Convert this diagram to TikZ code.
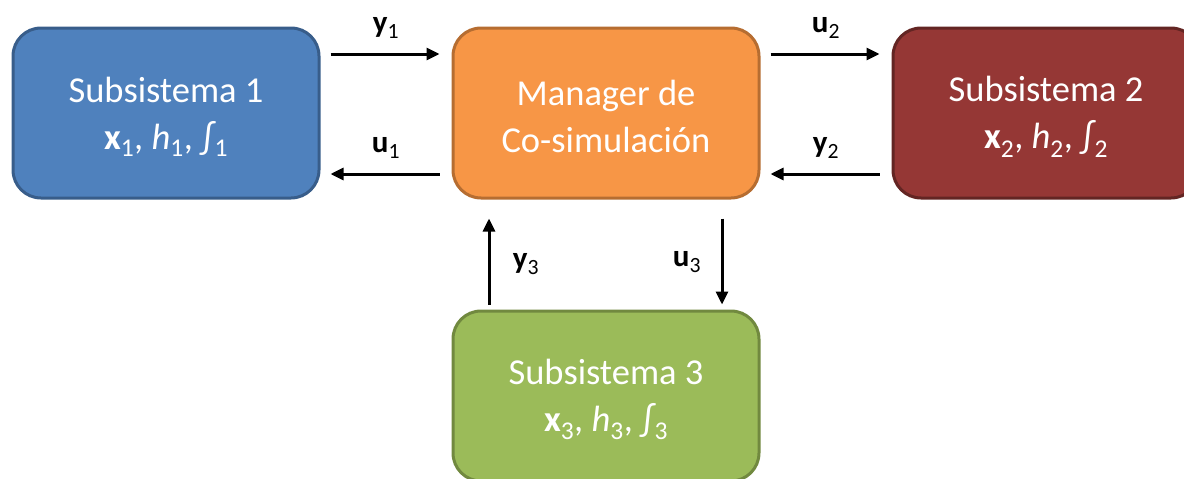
\documentclass[tikz,border=0pt]{standalone}
\usepackage{fontspec}
\setmainfont{Carlito}
\usetikzlibrary{arrows.meta}

\definecolor{blueF}{HTML}{4F81BD}
\definecolor{blueD}{HTML}{385D8A}
\definecolor{orgF}{HTML}{F79646}
\definecolor{orgD}{HTML}{B66D31}
\definecolor{redF}{HTML}{953735}
\definecolor{redD}{HTML}{632523}
\definecolor{grnF}{HTML}{9BBB59}
\definecolor{grnD}{HTML}{71893F}

% a little extra headroom on the first line sets the text block slightly lower
\newcommand{\topstrut}{\rule{0pt}{33pt}}

\tikzset{
  block/.style={draw, line width=3pt, rounded corners=28pt,
    minimum width=306pt, minimum height=170pt, inner sep=0pt,
    text=white, align=center, font=\fontsize{36.5}{47}\selectfont},
  link/.style={line width=3pt, -{Triangle[length=13pt,width=12pt]}},
  sig/.style={font=\fontsize{31}{34}\selectfont, inner sep=0pt},
}

\begin{document}
\begin{tikzpicture}[x=1pt,y=-1pt]
  \useasboundingbox (0,0) rectangle (1184,479);
  \clip (0,0) rectangle (1184,479);

  % subsystems and the co-simulation manager
  \node[block, fill=blueF, draw=blueD] (s1) at (166,113)
    {\topstrut Subsistema 1\\\textbf{x}\textsubscript{1}, \textit{h}\textsubscript{1}, ∫\textsubscript{1}};
  \node[block, fill=orgF, draw=orgD] (mgr) at (606,113)
    {\topstrut Manager de\\Co-simulación};
  \node[block, fill=redF, draw=redD] (s2) at (1046,113)
    {\topstrut Subsistema 2\\\textbf{x}\textsubscript{2}, \textit{h}\textsubscript{2}, ∫\textsubscript{2}};
  \node[block, fill=grnF, draw=grnD] (s3) at (606,396)
    {\topstrut Subsistema 3\\\textbf{x}\textsubscript{3}, \textit{h}\textsubscript{3}, ∫\textsubscript{3}};

  % signal exchange
  \draw[link] ([xshift=10pt,yshift=59pt]s1.east) -- ([xshift=-12pt,yshift=59pt]mgr.west);
  \draw[link] ([xshift=-12pt,yshift=-61pt]mgr.west) -- ([xshift=10pt,yshift=-61pt]s1.east);
  \draw[link] ([xshift=10pt,yshift=59pt]mgr.east) -- ([xshift=-12pt,yshift=59pt]s2.west);
  \draw[link] ([xshift=-12pt,yshift=-61pt]s2.west) -- ([xshift=10pt,yshift=-61pt]mgr.east);
  \draw[link] ([xshift=-117pt,yshift=5pt]s3.north) -- ([xshift=-117pt,yshift=-19pt]mgr.south);
  \draw[link] ([xshift=116pt,yshift=-19pt]mgr.south) -- ([xshift=116pt,yshift=5pt]s3.north);

  % signal labels
  \node[sig] (ly1) at (386,28) {\textbf{y}\textsubscript{1}};
  \node[sig] (lu1) at (386,148) {\textbf{u}\textsubscript{1}};
  \node[sig] (lu2) at (826,28) {\textbf{u}\textsubscript{2}};
  \node[sig] (ly2) at (826,148) {\textbf{y}\textsubscript{2}};
  \node[sig] (ly3) at (526,264) {\textbf{y}\textsubscript{3}};
  \node[sig] (lu3) at (687,262) {\textbf{u}\textsubscript{3}};
\end{tikzpicture}
\end{document}
